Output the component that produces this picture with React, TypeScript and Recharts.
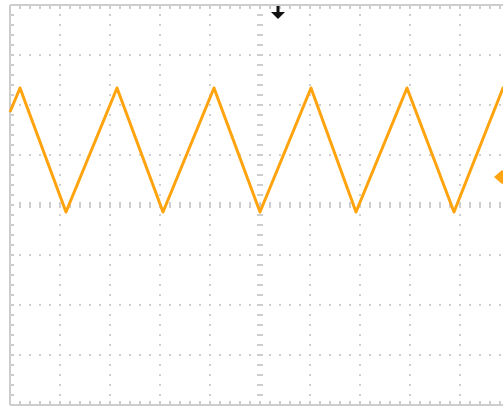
import { LineChart, Line, XAxis, YAxis, ReferenceLine, ReferenceDot } from "recharts"

// horizontal position in screen divisions, vertical level in volts/div
const timeDivs = [0, 0.2, 1.12, 2.14, 3.06, 4.08, 5.0, 6.02, 6.92, 7.94, 8.88, 9.86, 10]
const levels = [1.86, 2.34, -0.14, 2.34, -0.14, 2.34, -0.14, 2.34, -0.14, 2.34, -0.14, 2.34, 1.96]

const gridCols = [1, 2, 3, 4, 6, 7, 8, 9]
const gridRows = [-3, -2, -1, 1, 2, 3]

const triggerPos = 5.36
const channelOffset = 0.56

const trace = timeDivs.map((t, i) => ({ t, v: levels[i] }))

const DOT = "#cdcdcd"
const TRACE = "#ffa30f"

const TriggerArrow = ({ cx, cy }: { cx?: number; cy?: number }) => {
    if (cx == null || cy == null) return null
    return (
        <g fill="#111">
            <rect x={cx - 1.5} y={cy + 1} width={3} height={7} />
            <path d={`M${cx - 7},${cy + 7} L${cx + 7},${cy + 7} L${cx},${cy + 14} Z`} />
        </g>
    )
}

const OffsetMarker = ({ cx, cy }: { cx?: number; cy?: number }) => {
    if (cx == null || cy == null) return null
    return <path d={`M${cx},${cy} L${cx + 8},${cy - 7} L${cx + 16},${cy} L${cx + 8},${cy + 7} Z`} fill={TRACE} />
}

export default function App() {
    return (
        <div style={{ position: "fixed", left: 0, top: 0, width: 503, height: 406, overflow: "hidden", background: "#fff" }}>
            <LineChart width={520} height={406} data={trace} margin={{ top: 5, right: 10, bottom: 1, left: 10 }}>
                <XAxis dataKey="t" type="number" domain={[0, 10]} hide />
                <YAxis type="number" domain={[-4, 4]} hide />

                {/* dotted division grid */}
                {gridCols.map((c) => (
                    <ReferenceLine key={`c${c}`} x={c} stroke={DOT} strokeWidth={2} strokeDasharray="2 8" strokeDashoffset={1} />
                ))}
                {gridRows.map((r) => (
                    <ReferenceLine key={`r${r}`} y={r} stroke={DOT} strokeWidth={2} strokeDasharray="2 8" strokeDashoffset={1} />
                ))}

                {/* centre cross with minor ticks */}
                <ReferenceLine x={5} stroke={DOT} strokeWidth={6} strokeDasharray="2 8" strokeDashoffset={1} />
                <ReferenceLine y={0} stroke={DOT} strokeWidth={6} strokeDasharray="2 8" strokeDashoffset={1} />

                {/* frame with edge ticks */}
                <ReferenceLine x={0} stroke={DOT} strokeWidth={2} />
                <ReferenceLine x={0.04} stroke={DOT} strokeWidth={4} strokeDasharray="2 8" strokeDashoffset={1} />
                <ReferenceLine y={4} stroke={DOT} strokeWidth={2} />
                <ReferenceLine y={3.96} stroke={DOT} strokeWidth={4} strokeDasharray="2 8" strokeDashoffset={1} />
                <ReferenceLine y={-4} stroke={DOT} strokeWidth={2} />
                <ReferenceLine y={-3.96} stroke={DOT} strokeWidth={4} strokeDasharray="2 8" strokeDashoffset={1} />

                <Line
                    dataKey="v"
                    type="linear"
                    stroke={TRACE}
                    strokeWidth={3}
                    strokeLinejoin="round"
                    dot={false}
                    isAnimationActive={false}
                />

                <ReferenceDot x={triggerPos} y={4} r={0} shape={TriggerArrow} />
                <ReferenceDot x={9.68} y={channelOffset} r={0} shape={OffsetMarker} />
            </LineChart>
        </div>
    )
}
